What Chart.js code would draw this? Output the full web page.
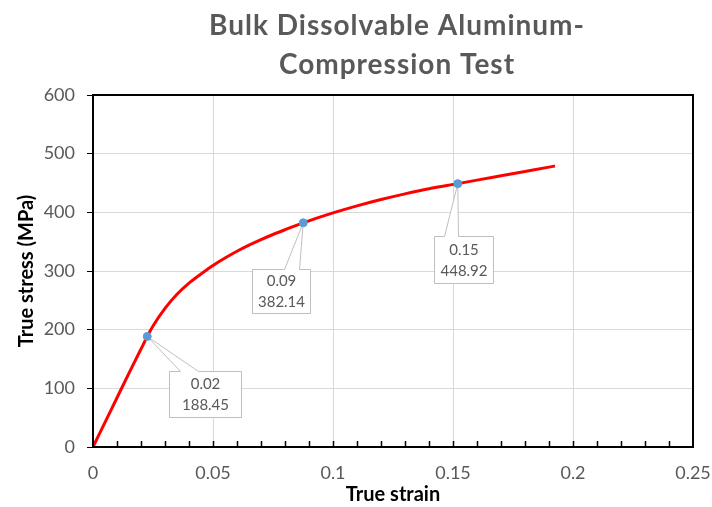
<!DOCTYPE html>
<html>
<head>
<meta charset="utf-8">
<script src="https://cdn.jsdelivr.net/npm/chart.js@4.4.0/dist/chart.umd.min.js"></script>
<style>
  html, body { margin: 0; padding: 0; background: #fff; }
  #wrap { width: 712px; height: 507px; }
</style>
</head>
<body>
<div id="wrap"><canvas id="myChart" width="712" height="507"></canvas></div>
<script>
// Dati della curva
const strain = [0, 0.005, 0.01, 0.015, 0.02, 0.0226, 0.025, 0.03, 0.035, 0.04, 0.045, 0.05,
  0.055, 0.06, 0.065, 0.07, 0.075, 0.08, 0.0876, 0.1, 0.11, 0.12, 0.13, 0.14, 0.152,
  0.16, 0.17, 0.18, 0.19, 0.1925];
const stress = [0, 42, 84, 126, 167, 188.45, 206.4, 236.4, 260.4, 279.4, 294.9, 309.4,
  322.1, 333.6, 344, 353.5, 362.2, 370.3, 382.14, 399, 411, 421.8, 431.5, 440.2, 448.92,
  454.9, 462.3, 469.7, 477.1, 479];

// Punti evidenziati con etichetta
const calloutStrain = [0.0226, 0.0876, 0.152];
const calloutStress = [188.45, 382.14, 448.92];

// Etichette degli assi
const xTickLabels = ['0', '0.05', '0.1', '0.15', '0.2', '0.25'];
const yTickLabels = ['0', '100', '200', '300', '400', '500', '600'];

const titleLines = ['Bulk Dissolvable Aluminum-', 'Compression Test'];

// Posizione dei riquadri rispetto al punto (stile)
const calloutBoxes = [
  { dx: 22, dy: 35, w: 72, h: 46, a1: 11, a2: 29 },
  { dx: -51, dy: 46, w: 58, h: 44, a1: 32, a2: 47 },
  { dx: -24, dy: 52, w: 59, h: 47, a1: 10, a2: 24 }
];

const gray = '#595959';

const titlePlugin = {
  id: 'titoloCentrato',
  afterDraw(chart) {
    const c = chart.ctx, a = chart.chartArea;
    const cx = (a.left + a.right) / 2 + 4;
    c.save();
    c.fillStyle = gray;
    c.font = 'bold 28px Lato';
    c.letterSpacing = '1px';
    c.textAlign = 'center';
    c.textBaseline = 'alphabetic';
    c.fillText(titleLines[0], cx, 35);
    c.fillText(titleLines[1], cx, 74);
    c.restore();
  }
};

const framePlugin = {
  id: 'cornice',
  afterDraw(chart) {
    const c = chart.ctx, a = chart.chartArea;
    const xs = chart.scales.x;
    c.save();
    c.strokeStyle = '#000';
    c.lineWidth = 2;
    c.strokeRect(a.left, a.top, a.right - a.left, a.bottom - a.top);
    // tacche minori sull'asse x, verso l'interno
    c.lineWidth = 1.5;
    c.beginPath();
    for (let i = 1; i < 25; i++) {
      const px = Math.round(xs.getPixelForValue(i / 100)) + 0.5;
      c.moveTo(px, a.bottom);
      c.lineTo(px, a.bottom - 6);
    }
    c.stroke();
    c.restore();
  }
};

const calloutPlugin = {
  id: 'etichette',
  beforeDatasetsDraw(chart) {
    const c = chart.ctx;
    const xs = chart.scales.x, ys = chart.scales.y;
    c.save();
    calloutStrain.forEach((sx, i) => {
      const px = xs.getPixelForValue(sx);
      const py = ys.getPixelForValue(calloutStress[i]);
      const b = calloutBoxes[i];
      const L = Math.round(px + b.dx) + 0.5, T = Math.round(py + b.dy) + 0.5;
      c.beginPath();
      c.moveTo(L, T);
      c.lineTo(L + b.a1, T);
      c.lineTo(px, py);
      c.lineTo(L + b.a2, T);
      c.lineTo(L + b.w, T);
      c.lineTo(L + b.w, T + b.h);
      c.lineTo(L, T + b.h);
      c.closePath();
      c.fillStyle = '#fff';
      c.fill();
      c.strokeStyle = '#bfbfbf';
      c.lineWidth = 1;
      c.stroke();
      c.fillStyle = gray;
      c.font = '15px Lato';
      c.textAlign = 'center';
      c.textBaseline = 'middle';
      c.fillText(sx.toFixed(2), L + b.w / 2, T + b.h / 2 - 10);
      c.fillText(calloutStress[i].toFixed(2), L + b.w / 2, T + b.h / 2 + 11);
    });
    c.restore();
  }
};

const ctx = document.getElementById('myChart').getContext('2d');
const chart = new Chart(ctx, {
  type: 'scatter',
  data: {
    datasets: [{
      label: 'Punti',
      data: calloutStrain.map((x, i) => ({ x: x, y: calloutStress[i] })),
      backgroundColor: '#5B9BD5',
      borderColor: '#5B9BD5',
      pointRadius: 4,
      showLine: false,
      order: 0
    }, {
      label: 'Curva',
      data: strain.map((x, i) => ({ x: x, y: stress[i] })),
      borderColor: '#ff0000',
      borderWidth: 3,
      pointRadius: 0,
      showLine: true,
      cubicInterpolationMode: 'monotone',
      order: 1
    }]
  },
  options: {
    responsive: false,
    animation: false,
    layout: { padding: { top: 95, right: 19, left: 0, bottom: 0 } },
    plugins: {
      legend: { display: false },
      tooltip: { enabled: false },
      title: { display: false }
    },
    scales: {
      x: {
        type: 'linear',
        min: 0,
        max: 0.25,
        afterFit(scale) {
          scale.height = 60;
          scale.paddingLeft = 0;
          scale.paddingRight = 0;
        },
        border: { display: false },
        grid: { color: '#d9d9d9', drawTicks: false },
        ticks: {
          stepSize: 0.05,
          padding: 15,
          color: gray,
          font: { family: 'Lato', size: 18 },
          callback: (v, i) => xTickLabels[i]
        },
        title: {
          display: true,
          text: 'True strain',
          color: '#000',
          font: { family: 'Lato', size: 20, weight: 'bold' },
          padding: { top: 0, bottom: 0 }
        }
      },
      y: {
        min: 0,
        max: 600,
        afterFit(scale) { scale.width = 93; },
        border: { display: false },
        grid: { color: '#d9d9d9', tickColor: '#000', tickLength: 6, lineWidth: 1 },
        ticks: {
          stepSize: 100,
          padding: 12,
          color: gray,
          font: { family: 'Lato', size: 18 },
          callback: (v, i) => yTickLabels[i]
        },
        title: {
          display: true,
          text: 'True stress (MPa)',
          color: '#000',
          font: { family: 'Lato', size: 20, weight: 'bold' },
          padding: { top: 15, bottom: 0 }
        }
      }
    }
  },
  plugins: [calloutPlugin, framePlugin, titlePlugin]
});
</script>
</body>
</html>
